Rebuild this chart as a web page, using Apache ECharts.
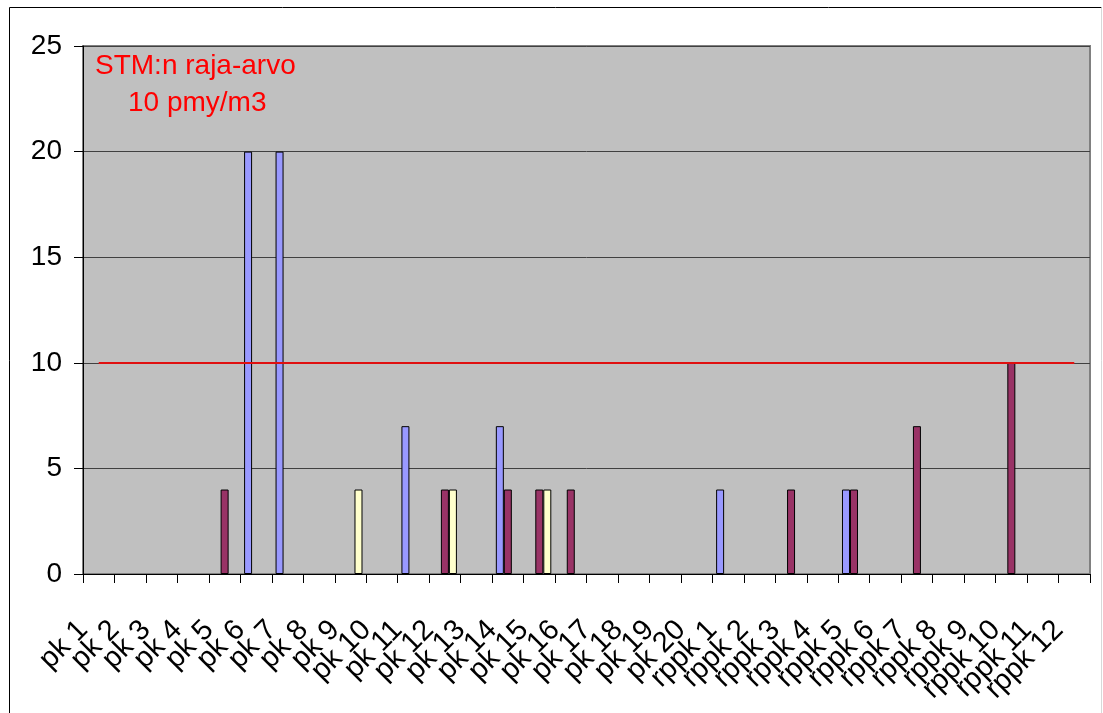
<!DOCTYPE html>
<html>
<head>
<meta charset="utf-8">
<title>Pitoisuudet</title>
<script src="https://cdn.jsdelivr.net/npm/echarts@6/dist/echarts.min.js"></script>
<style>
  html, body { margin: 0; padding: 0; background: #ffffff; }
  #chart { width: 1103px; height: 713px; }
</style>
</head>
<body>
<div id="chart"></div>
<script>
// Sampling points along the two routes
const categories = [
  'pk 1', 'pk 2', 'pk 3', 'pk 4', 'pk 5', 'pk 6', 'pk 7', 'pk 8', 'pk 9', 'pk 10',
  'pk 11', 'pk 12', 'pk 13', 'pk 14', 'pk 15', 'pk 16', 'pk 17', 'pk 18', 'pk 19', 'pk 20',
  'rppk 1', 'rppk 2', 'rppk 3', 'rppk 4', 'rppk 5', 'rppk 6', 'rppk 7', 'rppk 8', 'rppk 9',
  'rppk 10', 'rppk 11', 'rppk 12'
];

// Measured values (pmy/m3); null = no bar
const series1 = [
  null, null, null, null, null, 20, 20, null, null, null,
  7, null, null, 7, null, null, null, null, null, null,
  4, null, null, null, 4, null, null, null, null,
  null, null, null
];
const series2 = [
  null, null, null, null, 4, null, null, null, null, null,
  null, 4, null, 4, 4, 4, null, null, null, null,
  null, null, 4, null, 4, null, 7, null, null,
  10, null, null
];
const series3 = [
  null, null, null, null, null, null, null, null, 4, null,
  null, 4, null, null, 4, null, null, null, null, null,
  null, null, null, null, null, null, null, null, null,
  null, null, null
];

// Limit value and value axis range
const limitValue = 10;
const yMin = 0;
const yMax = 25;
const yStep = 5;

const limitText = ['STM:n raja-arvo', '10 pmy/m3'];

const FONT = '"Liberation Sans", Arial, sans-serif';

const barStyle = (color) => ({
  color: color,
  borderColor: '#000000',
  borderWidth: 1
});

const chart = echarts.init(document.getElementById('chart'), null, { renderer: 'canvas' });

chart.setOption({
  backgroundColor: '#ffffff',
  animation: false,
  grid: {
    left: 83,
    top: 46,
    right: 13,
    bottom: 139,
    show: true,
    backgroundColor: '#C0C0C0',
    borderColor: '#808080',
    borderWidth: 2,
    containLabel: false
  },
  xAxis: {
    type: 'category',
    data: categories,
    boundaryGap: true,
    axisLine: { show: true, lineStyle: { color: '#000000', width: 1 } },
    axisTick: { show: true, length: 9, alignWithLabel: false, interval: 0, lineStyle: { color: '#000000' } },
    axisLabel: {
      interval: 0,
      rotate: 45,
      margin: 36,
      padding: [0, 22, 0, 0],
      color: '#000000',
      fontSize: 29,
      fontFamily: FONT
    },
    splitLine: { show: false }
  },
  yAxis: {
    type: 'value',
    min: yMin,
    max: yMax,
    interval: yStep,
    axisLine: { show: true, lineStyle: { color: '#000000', width: 1 } },
    axisTick: { show: true, length: 9, lineStyle: { color: '#000000' } },
    axisLabel: {
      margin: 21,
      color: '#000000',
      fontSize: 28,
      fontFamily: FONT
    },
    splitLine: { show: true, lineStyle: { color: '#404040', width: 1 } }
  },
  series: [
    {
      name: 'sarja 1',
      type: 'bar',
      data: series1,
      barWidth: 8,
      barGap: '0%',
      itemStyle: barStyle('#9999FF')
    },
    {
      name: 'sarja 2',
      type: 'bar',
      data: series2,
      barWidth: 8,
      barGap: '0%',
      itemStyle: barStyle('#993366'),
      // limit value line, from the first to the last sampling point
      markLine: {
        silent: true,
        symbol: 'none',
        label: { show: false },
        lineStyle: { color: '#E01010', width: 2, type: 'solid' },
        data: [[
          { xAxis: categories[0], yAxis: limitValue },
          { xAxis: categories[categories.length - 1], yAxis: limitValue }
        ]]
      }
    },
    {
      name: 'sarja 3',
      type: 'bar',
      data: series3,
      barWidth: 8,
      barGap: '0%',
      itemStyle: barStyle('#FFFFCC')
    }
  ],
  graphic: [
    // chart frame
    {
      type: 'polyline',
      silent: true,
      shape: { points: [[9.5, 720], [9.5, 7.5], [1101.5, 7.5]] },
      style: { stroke: '#000000', lineWidth: 1, fill: null }
    },
    {
      type: 'line',
      silent: true,
      shape: { x1: 1101.5, y1: 7.5, x2: 1101.5, y2: 720 },
      style: { stroke: '#d8d8d8', lineWidth: 1 }
    },
    // limit value note
    {
      type: 'text',
      silent: true,
      left: 95,
      top: 52,
      style: { text: limitText[0], fill: '#FF0000', fontSize: 28, fontFamily: FONT }
    },
    {
      type: 'text',
      silent: true,
      left: 128,
      top: 89,
      style: { text: limitText[1], fill: '#FF0000', fontSize: 28, fontFamily: FONT }
    }
  ]
});
</script>
</body>
</html>
